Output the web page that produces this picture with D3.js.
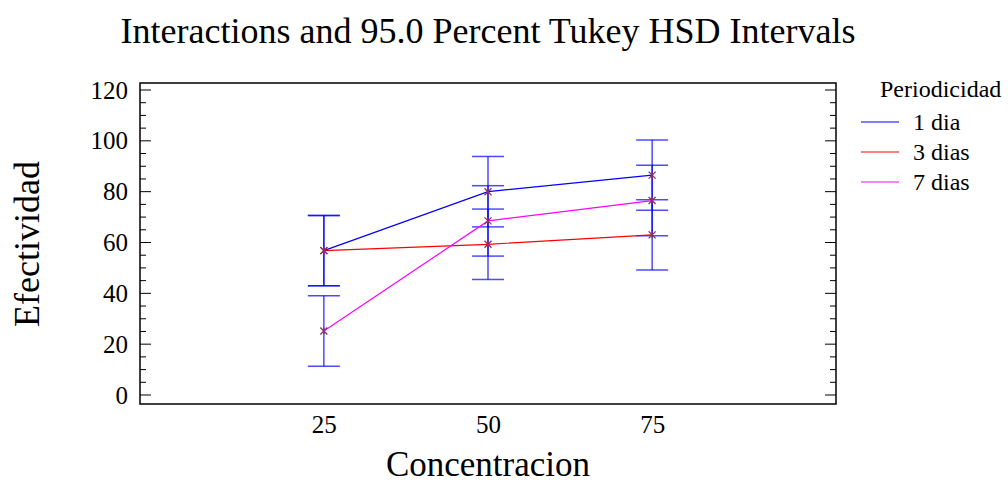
<!DOCTYPE html>
<html>
<head>
<meta charset="utf-8">
<script src="https://d3js.org/d3.v7.min.js"></script>
<style>
  body { margin: 0; background: #fff; }
  svg text { font-family: "Liberation Serif", "DejaVu Serif", serif; fill: #000; }
</style>
</head>
<body>
<div id="chart"></div>
<script>
// data
var concentracion = [25, 50, 75];
var periodos = ["1 dia", "3 dias", "7 dias"];
var efect1 = [56.8, 80.0, 86.5];
var efect3 = [56.8, 59.3, 63.0];
var efect7 = [25.2, 68.5, 76.5];
var hsdHalf = 13.85; // half width of the Tukey interval
var yTicks = [0, 20, 40, 60, 80, 100, 120];

var colors = ["#0000ff", "#ff0000", "#ff00ff"];
var series = [efect1, efect3, efect7];
var serif = "Liberation Serif";

var width = 1008, height = 483;
var margin = { top: 83, right: 172, bottom: 79, left: 140 };

var svg = d3.select("#chart").append("svg")
  .attr("width", width)
  .attr("height", height);

var x = d3.scaleLinear().domain([-3, 103]).range([margin.left, width - margin.right]);
var y = d3.scaleLinear().domain([0, 120]).range([395, 90]);
var plotBottom = height - margin.bottom;

// frame
svg.append("rect")
  .attr("x", margin.left)
  .attr("y", margin.top)
  .attr("width", width - margin.right - margin.left)
  .attr("height", plotBottom - margin.top)
  .attr("fill", "none")
  .attr("stroke", "#000")
  .attr("stroke-width", 1.5);

// left and right ticks (inward)
var minor = d3.range(0, 121, 5);
var tickG = svg.append("g").attr("stroke", "#000").attr("stroke-width", 1);
minor.forEach(function (v) {
  var len = v % 20 === 0 ? 11 : 6;
  tickG.append("line")
    .attr("x1", margin.left).attr("x2", margin.left + len)
    .attr("y1", y(v)).attr("y2", y(v));
  tickG.append("line")
    .attr("x1", width - margin.right).attr("x2", width - margin.right - len)
    .attr("y1", y(v)).attr("y2", y(v));
});

// y axis labels
var yAxis = d3.axisLeft(y).tickValues(yTicks).tickSize(0).tickPadding(12);
var yg = svg.append("g").attr("transform", "translate(" + margin.left + ",0)").call(yAxis);
yg.select(".domain").remove();
yg.attr("font-family", serif).attr("font-size", 25);

// x axis labels
var xAxis = d3.axisBottom(x).tickValues(concentracion).tickSize(0).tickPadding(11);
var xg = svg.append("g").attr("transform", "translate(0," + plotBottom + ")").call(xAxis);
xg.select(".domain").remove();
xg.attr("font-family", serif).attr("font-size", 25);

// interval bars
var bars = svg.append("g").attr("stroke", "#0000ff").attr("stroke-opacity", 0.7).attr("stroke-width", 1.5);
series.forEach(function (vals) {
  vals.forEach(function (v, i) {
    var cx = x(concentracion[i]);
    bars.append("line")
      .attr("x1", cx).attr("x2", cx)
      .attr("y1", y(v - hsdHalf)).attr("y2", y(v + hsdHalf));
    [v - hsdHalf, v + hsdHalf].forEach(function (e) {
      bars.append("line")
        .attr("x1", cx - 16).attr("x2", cx + 16)
        .attr("y1", y(e)).attr("y2", y(e));
    });
  });
});

// interaction lines
var line = d3.line()
  .x(function (d, i) { return x(concentracion[i]); })
  .y(function (d) { return y(d); });

series.forEach(function (vals, k) {
  svg.append("path")
    .datum(vals)
    .attr("d", line)
    .attr("fill", "none")
    .attr("stroke", colors[k])
    .attr("stroke-width", 1.2);
});

// markers
var mk = svg.append("g").attr("stroke", "#8a2d6e").attr("stroke-width", 1.3);
series.forEach(function (vals) {
  vals.forEach(function (v, i) {
    var cx = x(concentracion[i]), cy = y(v), s = 3.5;
    mk.append("line").attr("x1", cx - s).attr("x2", cx + s).attr("y1", cy - s).attr("y2", cy + s);
    mk.append("line").attr("x1", cx - s).attr("x2", cx + s).attr("y1", cy + s).attr("y2", cy - s);
    mk.append("line").attr("x1", cx).attr("x2", cx).attr("y1", cy - s).attr("y2", cy + s);
  });
});

// title
svg.append("text")
  .attr("x", 488).attr("y", 43)
  .attr("text-anchor", "middle")
  .style("font-size", "36px")
  .text("Interactions and 95.0 Percent Tukey HSD Intervals");

// axis titles
svg.append("text")
  .attr("x", 488).attr("y", 476)
  .attr("text-anchor", "middle")
  .style("font-size", "35px")
  .text("Concentracion");

svg.append("text")
  .attr("transform", "translate(39,244) rotate(-90)")
  .attr("text-anchor", "middle")
  .style("font-size", "36px")
  .text("Efectividad");

// legend
var leg = svg.append("g");
leg.append("text")
  .attr("x", 880).attr("y", 97)
  .style("font-family", serif)
  .style("font-size", "24px")
  .text("Periodicidad");
periodos.forEach(function (p, k) {
  var ly = 122 + k * 30;
  leg.append("line")
    .attr("x1", 861).attr("x2", 899)
    .attr("y1", ly).attr("y2", ly)
    .attr("stroke", colors[k])
    .attr("stroke-width", 1.2);
  leg.append("text")
    .attr("x", 913).attr("y", ly + 8)
    .style("font-family", serif)
    .style("font-size", "24px")
    .text(p);
});
</script>
</body>
</html>
